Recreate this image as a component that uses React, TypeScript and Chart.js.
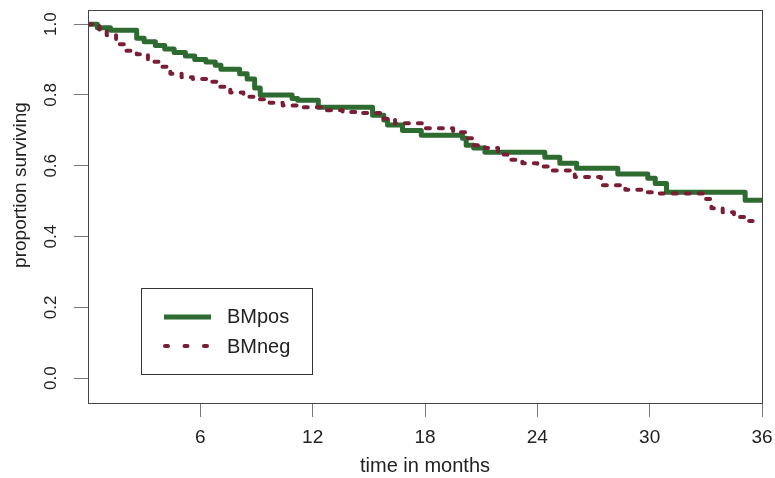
import React, { useEffect, useRef } from 'react';
import { Chart, registerables } from 'chart.js';

Chart.register(...registerables);

// ---- data ----
const seriesNames = ['BMpos', 'BMneg'];

const bmposTimes = [0, 0.5, 1.2, 2.6, 3.0, 3.6, 4.1, 4.6, 5.2, 5.7, 6.3, 6.8, 7.1, 8.1, 8.5, 8.9, 9.2, 10.9, 11.2, 12.3, 15.2, 15.8, 16.0, 16.8, 17.8, 20.0, 20.2, 20.6, 21.2, 24.4, 25.2, 26.1, 28.3, 29.9, 30.3, 30.9, 35.1, 36];
const bmposSurv = [1.0, 0.99, 0.983, 0.96, 0.95, 0.94, 0.93, 0.92, 0.91, 0.9, 0.893, 0.884, 0.873, 0.86, 0.845, 0.82, 0.8, 0.79, 0.785, 0.765, 0.743, 0.729, 0.715, 0.7, 0.686, 0.678, 0.658, 0.65, 0.638, 0.624, 0.607, 0.593, 0.577, 0.565, 0.55, 0.525, 0.503, 0.503];

const bmnegTimes = [0, 0.6, 1.0, 1.5, 2.0, 2.6, 3.2, 3.8, 4.4, 5.0, 5.6, 6.4, 7.0, 7.6, 8.3, 9.0, 9.7, 10.4, 11.2, 12.6, 13.6, 14.4, 15.8, 16.4, 18.0, 19.5, 20.2, 20.6, 21.2, 21.9, 22.4, 23.2, 24.0, 24.6, 26.0, 27.4, 28.7, 29.6, 30.5, 32.9, 33.3, 33.9, 34.5, 35.2, 35.5];
const bmnegSurv = [1.0, 0.985, 0.969, 0.943, 0.925, 0.915, 0.894, 0.88, 0.86, 0.85, 0.845, 0.837, 0.823, 0.807, 0.795, 0.788, 0.778, 0.77, 0.765, 0.757, 0.752, 0.749, 0.733, 0.72, 0.706, 0.695, 0.678, 0.658, 0.65, 0.632, 0.617, 0.607, 0.598, 0.587, 0.568, 0.545, 0.532, 0.525, 0.522, 0.506, 0.48, 0.469, 0.455, 0.444, 0.444];

const xTickValues = [6, 12, 18, 24, 30, 36];
const yTickValues = [0, 0.2, 0.4, 0.6, 0.8, 1.0];
const xTitle = 'time in months';
const yTitle = 'proportion surviving';

const FONT = '"Liberation Sans", Arial, Helvetica, sans-serif';
const GREEN = '#2d6b31';
const RED = '#7a1e36';
const TEXT = '#222222';

const rStylePlugin = {
  id: 'rStyle',
  afterDraw(chart: any) {
    const { ctx, chartArea: a, scales } = chart;
    const y = scales.y;
    ctx.save();
    // plot box
    ctx.strokeStyle = '#444';
    ctx.lineWidth = 1;
    ctx.setLineDash([]);
    ctx.strokeRect(Math.round(a.left) + 0.5, Math.round(a.top) + 0.5, Math.round(a.right - a.left), Math.round(a.bottom - a.top));

    // rotated y tick labels
    ctx.fillStyle = TEXT;
    ctx.font = `17px ${FONT}`;
    ctx.textAlign = 'center';
    ctx.textBaseline = 'middle';
    for (const v of yTickValues) {
      const py = y.getPixelForValue(v);
      ctx.save();
      ctx.translate(a.left - 37, py);
      ctx.rotate(-Math.PI / 2);
      ctx.fillText(v.toFixed(1), 0, 0);
      ctx.restore();
    }
    // y title
    ctx.save();
    ctx.font = `19px ${FONT}`;
    ctx.translate(21, a.top + 175);
    ctx.rotate(-Math.PI / 2);
    ctx.fillText(yTitle, 0, 0);
    ctx.restore();

    // legend
    const lx = a.left + 53;
    const ly = a.top + 278;
    ctx.strokeStyle = '#333';
    ctx.lineWidth = 1;
    ctx.strokeRect(lx + 0.5, ly + 0.5, 171, 86);
    ctx.lineWidth = 5;
    ctx.strokeStyle = GREEN;
    ctx.lineCap = 'butt';
    ctx.beginPath();
    ctx.moveTo(lx + 23, ly + 29);
    ctx.lineTo(lx + 70, ly + 29);
    ctx.stroke();
    ctx.lineWidth = 4;
    ctx.strokeStyle = RED;
    ctx.lineCap = 'round';
    ctx.setLineDash([3, 16.5]);
    ctx.beginPath();
    ctx.moveTo(lx + 24, ly + 58);
    ctx.lineTo(lx + 70, ly + 58);
    ctx.stroke();
    ctx.setLineDash([]);
    ctx.fillStyle = TEXT;
    ctx.font = `20px ${FONT}`;
    ctx.textAlign = 'left';
    ctx.textBaseline = 'middle';
    ctx.fillText(seriesNames[0], lx + 86, ly + 29);
    ctx.fillText(seriesNames[1], lx + 86, ly + 59);
    ctx.restore();
  },
};

export default function App() {
  const canvasRef = useRef<HTMLCanvasElement | null>(null);

  useEffect(() => {
    if (!canvasRef.current) return;
    const chart = new Chart(canvasRef.current, {
      type: 'line',
      data: {
        datasets: [
          {
            label: seriesNames[0],
            data: bmposTimes.map((t, i) => ({ x: t, y: bmposSurv[i] })),
            stepped: 'before',
            borderColor: GREEN,
            backgroundColor: GREEN,
            borderWidth: 5,
            pointRadius: 0,
            fill: false,
            borderJoinStyle: 'round',
            borderCapStyle: 'round',
            order: 2,
          },
          {
            label: seriesNames[1],
            data: bmnegTimes.map((t, i) => ({ x: t, y: bmnegSurv[i] })),
            stepped: 'before',
            borderColor: RED,
            backgroundColor: RED,
            borderWidth: 4,
            borderDash: [4, 9],
            pointRadius: 0,
            fill: false,
            borderJoinStyle: 'round',
            borderCapStyle: 'round',
            order: 1,
          },
        ],
      } as any,
      options: {
        responsive: false,
        animation: false,
        layout: { padding: { top: 10, right: 13, left: 0, bottom: 0 } },
        plugins: { legend: { display: false }, tooltip: { enabled: false } },
        scales: {
          x: {
            type: 'linear',
            min: 0,
            max: 36,
            afterBuildTicks: (s: any) => {
              s.ticks = xTickValues.map((v) => ({ value: v }));
            },
            afterFit: (s: any) => {
              s.height = 75;
              s.paddingLeft = 0;
              s.paddingRight = 0;
            },
            grid: { drawOnChartArea: false, drawTicks: true, tickLength: 14, color: '#777', lineWidth: 1 },
            border: { display: false },
            ticks: {
              padding: 9,
              color: TEXT,
              font: { family: FONT, size: 19 },
              maxRotation: 0,
              minRotation: 0,
              autoSkip: false,
              callback: (v: any) => String(v),
            },
            title: {
              display: true,
              text: xTitle,
              color: TEXT,
              font: { family: FONT, size: 20 },
              padding: { top: 0, bottom: 0 },
            },
          },
          y: {
            type: 'linear',
            min: -0.07,
            max: 1.04,
            afterBuildTicks: (s: any) => {
              s.ticks = yTickValues.map((v) => ({ value: v }));
            },
            afterFit: (s: any) => {
              s.width = 88;
              s.paddingTop = 0;
              s.paddingBottom = 0;
            },
            grid: { drawOnChartArea: false, drawTicks: true, tickLength: 14, color: '#777', lineWidth: 1 },
            border: { display: false },
            ticks: { display: false },
          },
        },
      } as any,
      plugins: [rStylePlugin],
    });
    return () => chart.destroy();
  }, []);

  return (
    <div style={{ position: 'absolute', left: 0, top: 0, width: 775, height: 478, background: '#fff' }}>
      <canvas ref={canvasRef} width={775} height={478} style={{ display: 'block' }} />
    </div>
  );
}
